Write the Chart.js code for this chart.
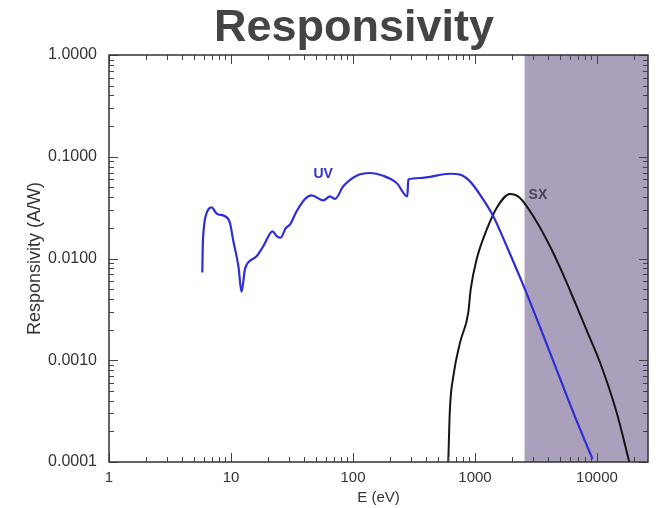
<!DOCTYPE html>
<html>
<head>
<meta charset="utf-8">
<title>Responsivity</title>
<script src="https://cdn.jsdelivr.net/npm/chart.js@4.4.1/dist/chart.umd.min.js"></script>
<style>
  html, body { margin: 0; padding: 0; background: #fff; }
</style>
</head>
<body>
<canvas id="chart" width="659" height="508"></canvas>
<script>
/* Responsivity of the UV and SX channels vs photon energy (log-log) */

// UV channel: energy (eV) and responsivity (A/W)
const uvEnergy = [5.82, 5.86, 6.01, 6.32, 6.95, 7.63, 8.93, 9.8, 10.4, 11.5, 12.2, 13.0, 13.8, 16.2, 18.4,
  21.9, 23.7, 25.5, 28.2, 30.5, 34.5, 40.4, 45.8, 57.1, 64.8, 71.2, 83.2, 107, 138, 177, 228, 279, 284,
  354, 623, 754, 910, 1170, 1413, 1820, 2570, 4120, 6390, 9200];
const uvResp = [0.0073, 0.0123, 0.0207, 0.028, 0.0318, 0.0276, 0.026, 0.0224, 0.0153, 0.0084, 0.0047, 0.0078,
  0.0091, 0.0105, 0.0132, 0.0185, 0.0166, 0.016, 0.02, 0.0216, 0.0291, 0.0385, 0.0418, 0.0373, 0.0408, 0.0385,
  0.0512, 0.0651, 0.0692, 0.0651, 0.0552, 0.0408, 0.0596, 0.0618, 0.0681, 0.0667, 0.0573, 0.0379, 0.026,
  0.0132, 0.00497, 0.00119, 0.000307, 0.000107];

// SX channel
const sxEnergy = [604, 623, 665, 754, 881, 922, 1031, 1247, 1506, 1937, 2339, 3006, 4120, 5300, 6810, 8500,
  10600, 14500, 18400];
const sxResp = [0.0001, 0.00033, 0.0007, 0.00149, 0.00294, 0.00497, 0.0098, 0.0192, 0.0314, 0.0431, 0.0394,
  0.026, 0.0132, 0.0069, 0.0034, 0.0018, 0.00095, 0.000307, 0.0001];

// axes
const xMin = 1, xMax = 26200;
const yMin = 0.0001, yMax = 1;
const xMajor = [1, 10, 100, 1000, 10000];
const xLabels = ['1', '10', '100', '1000', '10000'];
const yMajor = [0.0001, 0.001, 0.01, 0.1, 1];
const yLabels = ['0.0001', '0.0010', '0.0100', '0.1000', '1.0000'];

// shaded band start (eV) and curve labels [E, R]
const shadeStart = 2550;
const uvLabelAt = [57, 0.068];
const sxLabelAt = [3280, 0.0415];

// 1..9 per decade, for the minor tick marks
function logTicks(lo, hi) {
  const out = [];
  for (let d = Math.floor(Math.log10(lo)); d <= Math.ceil(Math.log10(hi)); d++) {
    for (let m = 1; m <= 9; m++) {
      const v = +(m * Math.pow(10, d)).toPrecision(6);
      if (v >= lo * 0.999 && v <= hi * 1.001) out.push(v);
    }
  }
  return out;
}
const xTicks = logTicks(xMin, xMax);
const yTicks = logTicks(yMin, yMax);

function isMajor(list, v) {
  return list.some((m) => Math.abs(m - v) / m < 1e-6);
}
function labelFor(list, labels, v) {
  const i = list.findIndex((m) => Math.abs(m - v) / m < 1e-6);
  return i >= 0 ? labels[i] : '';
}

const pairs = (xs, ys) => xs.map((x, i) => ({ x, y: ys[i] }));

// shaded band, frame, inward ticks, title and curve labels
const decorations = {
  id: 'decorations',
  beforeDatasetsDraw(chart) {
    const { ctx, chartArea: a, scales: { x } } = chart;
    const x0 = x.getPixelForValue(shadeStart);
    ctx.save();
    ctx.fillStyle = '#aba0bb';
    ctx.fillRect(x0, a.top, a.right - x0, a.bottom - a.top);
    ctx.restore();
  },
  afterDatasetsDraw(chart) {
    const { ctx, chartArea: a, scales: { x, y } } = chart;
    ctx.save();
    ctx.strokeStyle = '#444';
    ctx.lineWidth = 1;
    ctx.beginPath();
    xTicks.forEach((v) => {
      const px = Math.round(x.getPixelForValue(v)) + 0.5;
      const len = isMajor(xMajor, v) ? 9 : 5;
      ctx.moveTo(px, a.bottom); ctx.lineTo(px, a.bottom - len);
      ctx.moveTo(px, a.top); ctx.lineTo(px, a.top + len);
    });
    yTicks.forEach((v) => {
      const py = Math.round(y.getPixelForValue(v)) + 0.5;
      const len = isMajor(yMajor, v) ? 9 : 5;
      ctx.moveTo(a.left, py); ctx.lineTo(a.left + len, py);
      ctx.moveTo(a.right, py); ctx.lineTo(a.right - len, py);
    });
    ctx.stroke();

    ctx.strokeStyle = '#333';
    ctx.lineWidth = 1.5;
    ctx.strokeRect(a.left, a.top, a.right - a.left, a.bottom - a.top);

    // curve labels
    ctx.textAlign = 'center';
    ctx.textBaseline = 'middle';
    ctx.font = 'bold 14px "Liberation Sans", Arial, sans-serif';
    ctx.fillStyle = '#3030d0';
    ctx.fillText('UV', x.getPixelForValue(uvLabelAt[0]), y.getPixelForValue(uvLabelAt[1]));
    ctx.fillStyle = '#4a4060';
    ctx.fillText('SX', x.getPixelForValue(sxLabelAt[0]), y.getPixelForValue(sxLabelAt[1]));

    // title
    ctx.font = 'bold 45px "Liberation Sans", Arial, sans-serif';
    ctx.fillStyle = '#444';
    ctx.textBaseline = 'alphabetic';
    ctx.fillText('Responsivity', 354, 41);
    ctx.restore();
  },
};

new Chart(document.getElementById('chart'), {
  type: 'line',
  data: {
    datasets: [
      {
        label: 'UV',
        data: pairs(uvEnergy, uvResp),
        borderColor: '#2e2ed8',
        borderWidth: 2.2,
        pointRadius: 0,
        cubicInterpolationMode: 'monotone',
      },
      {
        label: 'SX',
        data: pairs(sxEnergy, sxResp),
        borderColor: '#151515',
        borderWidth: 2,
        pointRadius: 0,
        cubicInterpolationMode: 'monotone',
      },
    ],
  },
  options: {
    responsive: false,
    animation: false,
    layout: { padding: { top: 55, right: 11, left: 0, bottom: 0 } },
    plugins: {
      legend: { display: false },
      tooltip: { enabled: false },
    },
    scales: {
      x: {
        type: 'logarithmic',
        min: xMin,
        max: xMax,
        afterBuildTicks: (s) => { s.ticks = xTicks.map((v) => ({ value: v })); },
        afterFit: (s) => { s.height = 46; },
        grid: { display: false, drawTicks: false },
        border: { display: false },
        ticks: {
          autoSkip: false,
          maxRotation: 0,
          padding: 7,
          color: '#333',
          font: { family: '"Liberation Sans", Arial, sans-serif', size: 15 },
          callback: (v) => labelFor(xMajor, xLabels, v),
        },
        title: {
          display: true,
          text: 'E (eV)',
          color: '#333',
          font: { family: '"Liberation Sans", Arial, sans-serif', size: 15 },
          padding: { top: 0, bottom: 1 },
        },
      },
      y: {
        type: 'logarithmic',
        min: yMin,
        max: yMax,
        afterBuildTicks: (s) => { s.ticks = yTicks.map((v) => ({ value: v })); },
        afterFit: (s) => { s.width = 109; },
        grid: { display: false, drawTicks: false },
        border: { display: false },
        ticks: {
          autoSkip: false,
          padding: 12,
          color: '#333',
          font: { family: '"Liberation Sans", Arial, sans-serif', size: 16 },
          callback: (v) => labelFor(yMajor, yLabels, v),
        },
        title: {
          display: true,
          text: 'Responsivity (A/W)',
          color: '#333',
          font: { family: '"Liberation Sans", Arial, sans-serif', size: 18 },
          padding: { top: 24, bottom: 0 },
        },
      },
    },
  },
  plugins: [decorations],
});
</script>
</body>
</html>
